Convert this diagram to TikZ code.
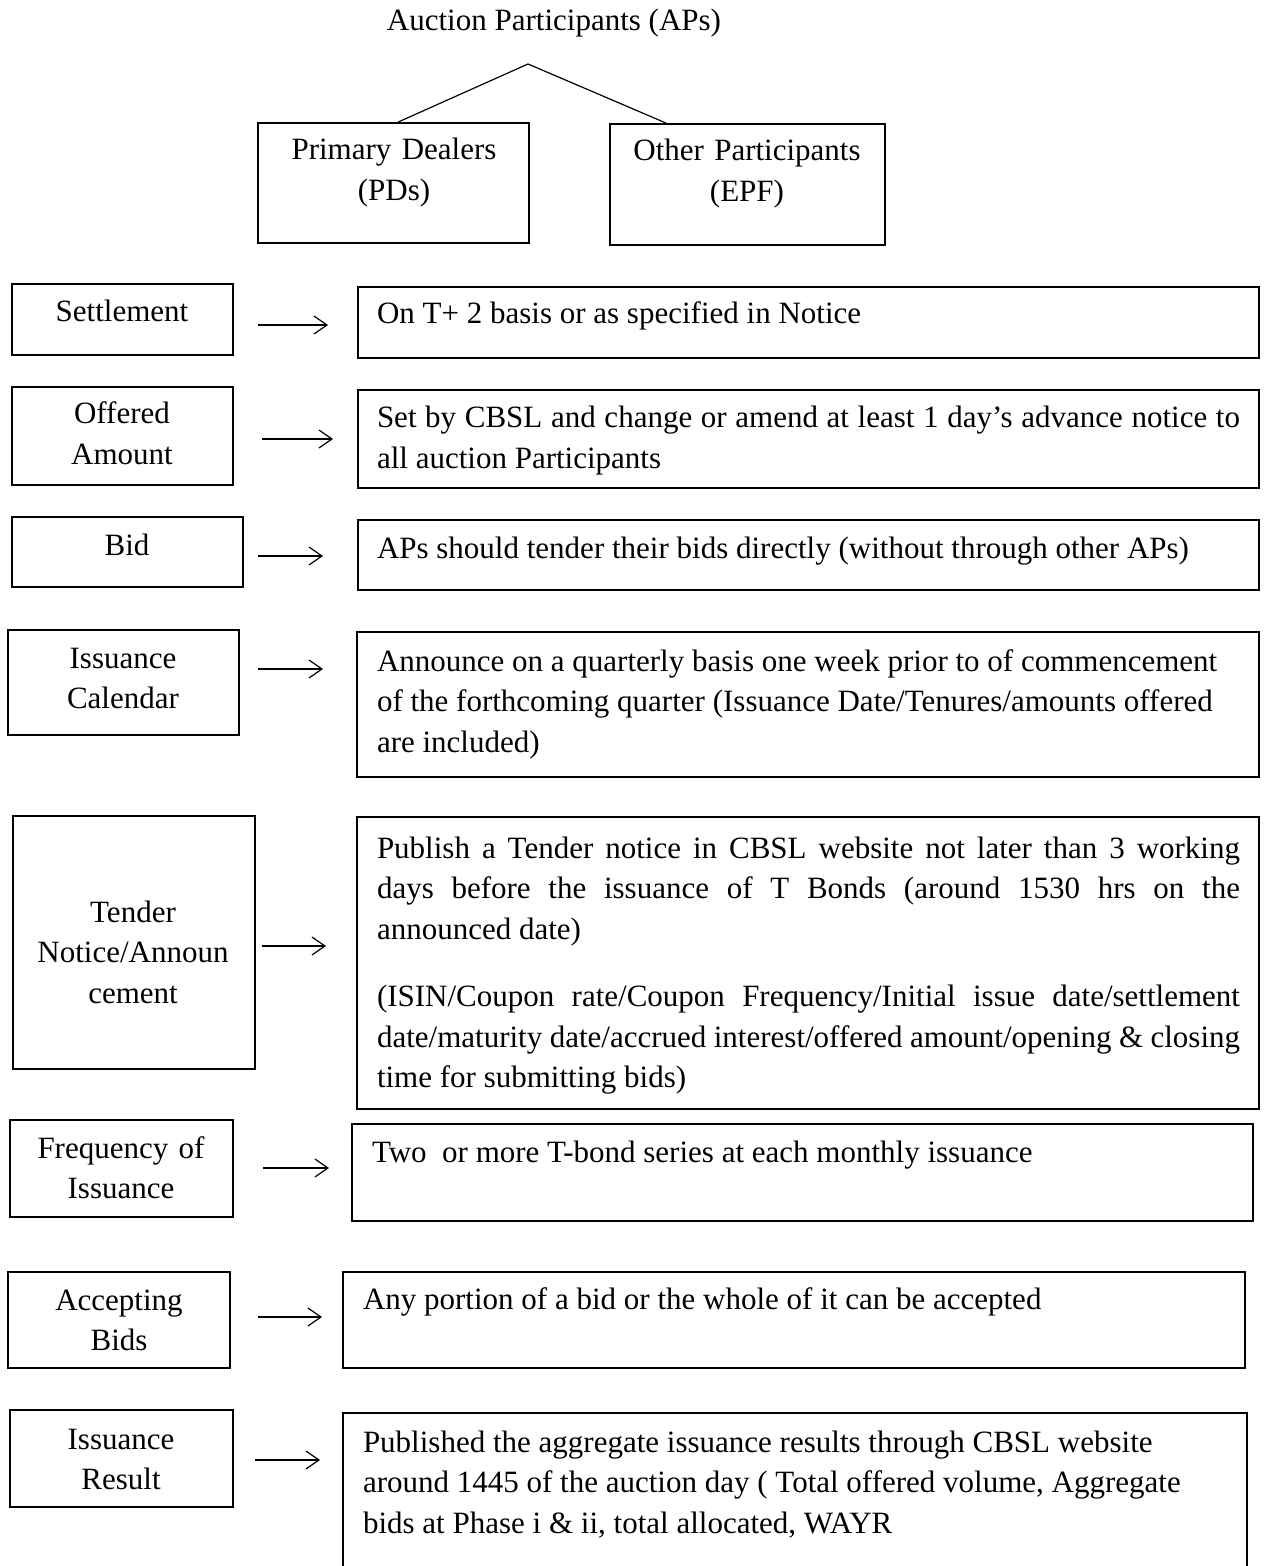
\documentclass[tikz,border=0pt]{standalone}
\usepackage{fontspec}
\setmainfont{Liberation Serif}
\usetikzlibrary{arrows.meta,fit}
\newcommand{\JLine}[1]{\makebox[431.5pt][s]{#1}}
\newcommand{\RSpace}{\spaceskip=3.88pt plus 4pt minus 0.5pt\relax}
\begin{document}
\begin{tikzpicture}[x=0.5pt,y=-0.5pt,
  box/.style={draw, line width=0.9pt, inner sep=0pt},
  txt/.style={font=\fontsize{15.5}{20.25}\selectfont, inner sep=0pt, outer sep=0pt},
  ltxt/.style={txt, anchor=base, text width=112pt, align=center},
  ctxt/.style={txt, anchor=base, text width=140pt, align=center},
  rtxt/.style={txt, anchor=base west, text width=445pt, align=left},
  conn/.style={line width=0.6pt},
  arr/.style={line width=0.6pt, -{Straight Barb[length=6.5pt,width=9pt,line width=0.6pt]}}]
\useasboundingbox (0,0) rectangle (1267,1566);

% top
\node[txt, anchor=base] (aps) at (554,31) {Auction Participants (APs)};
\coordinate (apex) at (528,64);
\node[box, fit={(258,123) (529,243)}] (pd) {};
\node[box, fit={(610,124) (885,245)}] (op) {};
\node[ctxt] (pdt) at (394,160) {Primary Dealers\\(PDs)};
\node[ctxt] (opt) at (747,161) {Other Participants\\(EPF)};
\draw[conn] ([xshift=70.5pt]pd.north west) -- (apex) -- ([xshift=28.5pt]op.north west);

% left boxes
\node[box, fit={(12,284) (233,355)}] (l1) {};
\node[box, fit={(12,387) (233,485)}] (l2) {};
\node[box, fit={(12,517) (243,587)}] (l3) {};
\node[box, fit={(8,630) (239,735)}] (l4) {};
\node[box, fit={(13,816) (255,1069)}] (l5) {};
\node[box, fit={(10,1120) (233,1217)}] (l6) {};
\node[box, fit={(8,1272) (230,1368)}] (l7) {};
\node[box, fit={(10,1410) (233,1507)}] (l8) {};

\node[ltxt] (t1) at (122,322) {Settlement};
\node[ltxt] (t2) at (122,424) {Offered\\Amount};
\node[ltxt] (t3) at (127,555) {Bid};
\node[ltxt] (t4) at (123,668) {Issuance\\Calendar};
\node[ltxt] (t5) at (133,922) {Tender\\Notice/Announ\\cement};
\node[ltxt] (t6) at (121,1158) {Frequency of\\Issuance};
\node[ltxt] (t7) at (119,1310) {Accepting\\Bids};
\node[ltxt] (t8) at (121,1449) {Issuance\\Result};

% right boxes
\node[box, fit={(358,287) (1259,358)}] (r1) {};
\node[box, fit={(358,390) (1259,488)}] (r2) {};
\node[box, fit={(358,520) (1259,590)}] (r3) {};
\node[box, fit={(357,632) (1259,777)}] (r4) {};
\node[box, fit={(357,817) (1259,1109)}] (r5) {};
\node[box, fit={(352,1124) (1253,1221)}] (r6) {};
\node[box, fit={(343,1272) (1245,1368)}] (r7) {};
\node[box, fit={(343,1413) (1247,1580)}] (r8) {};

\node[rtxt] (u1) at (377,324) {\RSpace On T+ 2 basis or as specified in Notice};
\node[rtxt] (u2) at (377,428) {\RSpace\JLine{Set by CBSL and change or amend at least 1 day’s advance notice to}\\all auction Participants};
\node[rtxt] (u3) at (377,558) {\RSpace APs should tender their bids directly (without through other APs)};
\node[rtxt] (u4) at (377,671) {\RSpace Announce on a quarterly basis one week prior to of commencement\\of the forthcoming quarter (Issuance Date/Tenures/amounts offered\\are included)};
\node[rtxt] (u5) at (377,858) {\RSpace\JLine{Publish a Tender notice in CBSL website not later than 3 working}\\\JLine{days before the issuance of T Bonds (around 1530 hrs on the}\\announced date)\\[13.5pt]\JLine{(ISIN/Coupon rate/Coupon Frequency/Initial issue date/settlement}\\\JLine{date/maturity date/accrued interest/offered amount/opening \& closing}\\time for submitting bids)};
\node[rtxt] (u6) at (372,1162) {\RSpace Two\hspace{7.76pt}or more T-bond series at each monthly issuance};
\node[rtxt] (u7) at (363,1309) {\RSpace Any portion of a bid or the whole of it can be accepted};
\node[rtxt] (u8) at (363,1452) {\RSpace Published the aggregate issuance results through CBSL website\\around 1445 of the auction day ( Total offered volume, Aggregate\\bids at Phase i \& ii, total allocated, WAYR};

% arrows
\coordinate (a1s) at (258,325); \coordinate (a1e) at (328,325);
\coordinate (a2s) at (262,439); \coordinate (a2e) at (333,439);
\coordinate (a3s) at (258,556); \coordinate (a3e) at (323,556);
\coordinate (a4s) at (258,669); \coordinate (a4e) at (323,669);
\coordinate (a5s) at (262,946); \coordinate (a5e) at (326,946);
\coordinate (a6s) at (263,1168); \coordinate (a6e) at (329,1168);
\coordinate (a7s) at (258,1317); \coordinate (a7e) at (322,1317);
\coordinate (a8s) at (255,1460); \coordinate (a8e) at (320,1460);
\foreach \i in {1,...,8} \draw[arr] (a\i s) -- (a\i e);
\end{tikzpicture}
\end{document}
